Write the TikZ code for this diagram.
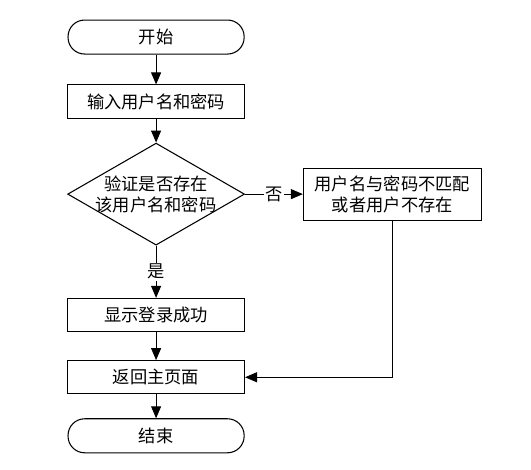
\documentclass[tikz,border=0pt]{standalone}
\usepackage{fontspec}
\setmainfont{Noto Sans CJK SC}
\usepackage{tikz}
\usetikzlibrary{arrows.meta, positioning, shapes.geometric}
\tikzset{
  term/.style={draw, line width=0.8pt, rounded corners=0.44cm, align=center,
               minimum width=4.66cm, minimum height=0.9cm, inner sep=2pt},
  proc/.style={draw, line width=0.8pt, align=center,
               minimum width=4.68cm, minimum height=0.88cm, inner sep=2pt},
  decide/.style={draw, line width=0.8pt, diamond,
                 minimum width=4.68cm, minimum height=2.7cm, inner sep=0pt},
  flow/.style={-{Triangle[length=9pt, width=7.5pt]}, line width=0.75pt},
  tag/.style={fill=white, inner sep=1pt},
}

\begin{document}
\begin{tikzpicture}[
  every node/.style={font=\fontsize{13pt}{16pt}\selectfont},
]
\useasboundingbox (0,0) rectangle (14.05,-12.41);

\node[term] (start) at (4.13,-0.98) {开始};
\node[proc, below=0.79cm of start] (input) {输入用户名和密码};
\node[decide, below=0.63cm of input,
      label={[align=center]center:验证是否存在\\该用户名和密码}] (check) {};
\node[proc, right=1.53cm of check, minimum width=4.71cm, minimum height=1.38cm] (fail)
  {用户名与密码不匹配\\或者用户不存在};
\node[proc, below=1.38cm of check] (ok) {显示登录成功};
\node[proc, below=0.74cm of ok] (home) {返回主页面};
\node[term, below=0.63cm of home] (stop) {结束};

\draw[flow] (start) -- (input);
\draw[flow] (input) -- (check);
\draw[flow] (check) -- node[tag] {否} (fail);
\draw[flow] (check) -- node[tag] {是} (ok);
\draw[flow] (ok) -- (home);
\draw[flow] (home) -- (stop);
\draw[flow] (fail.south) |- (home.east);
\end{tikzpicture}
\end{document}
